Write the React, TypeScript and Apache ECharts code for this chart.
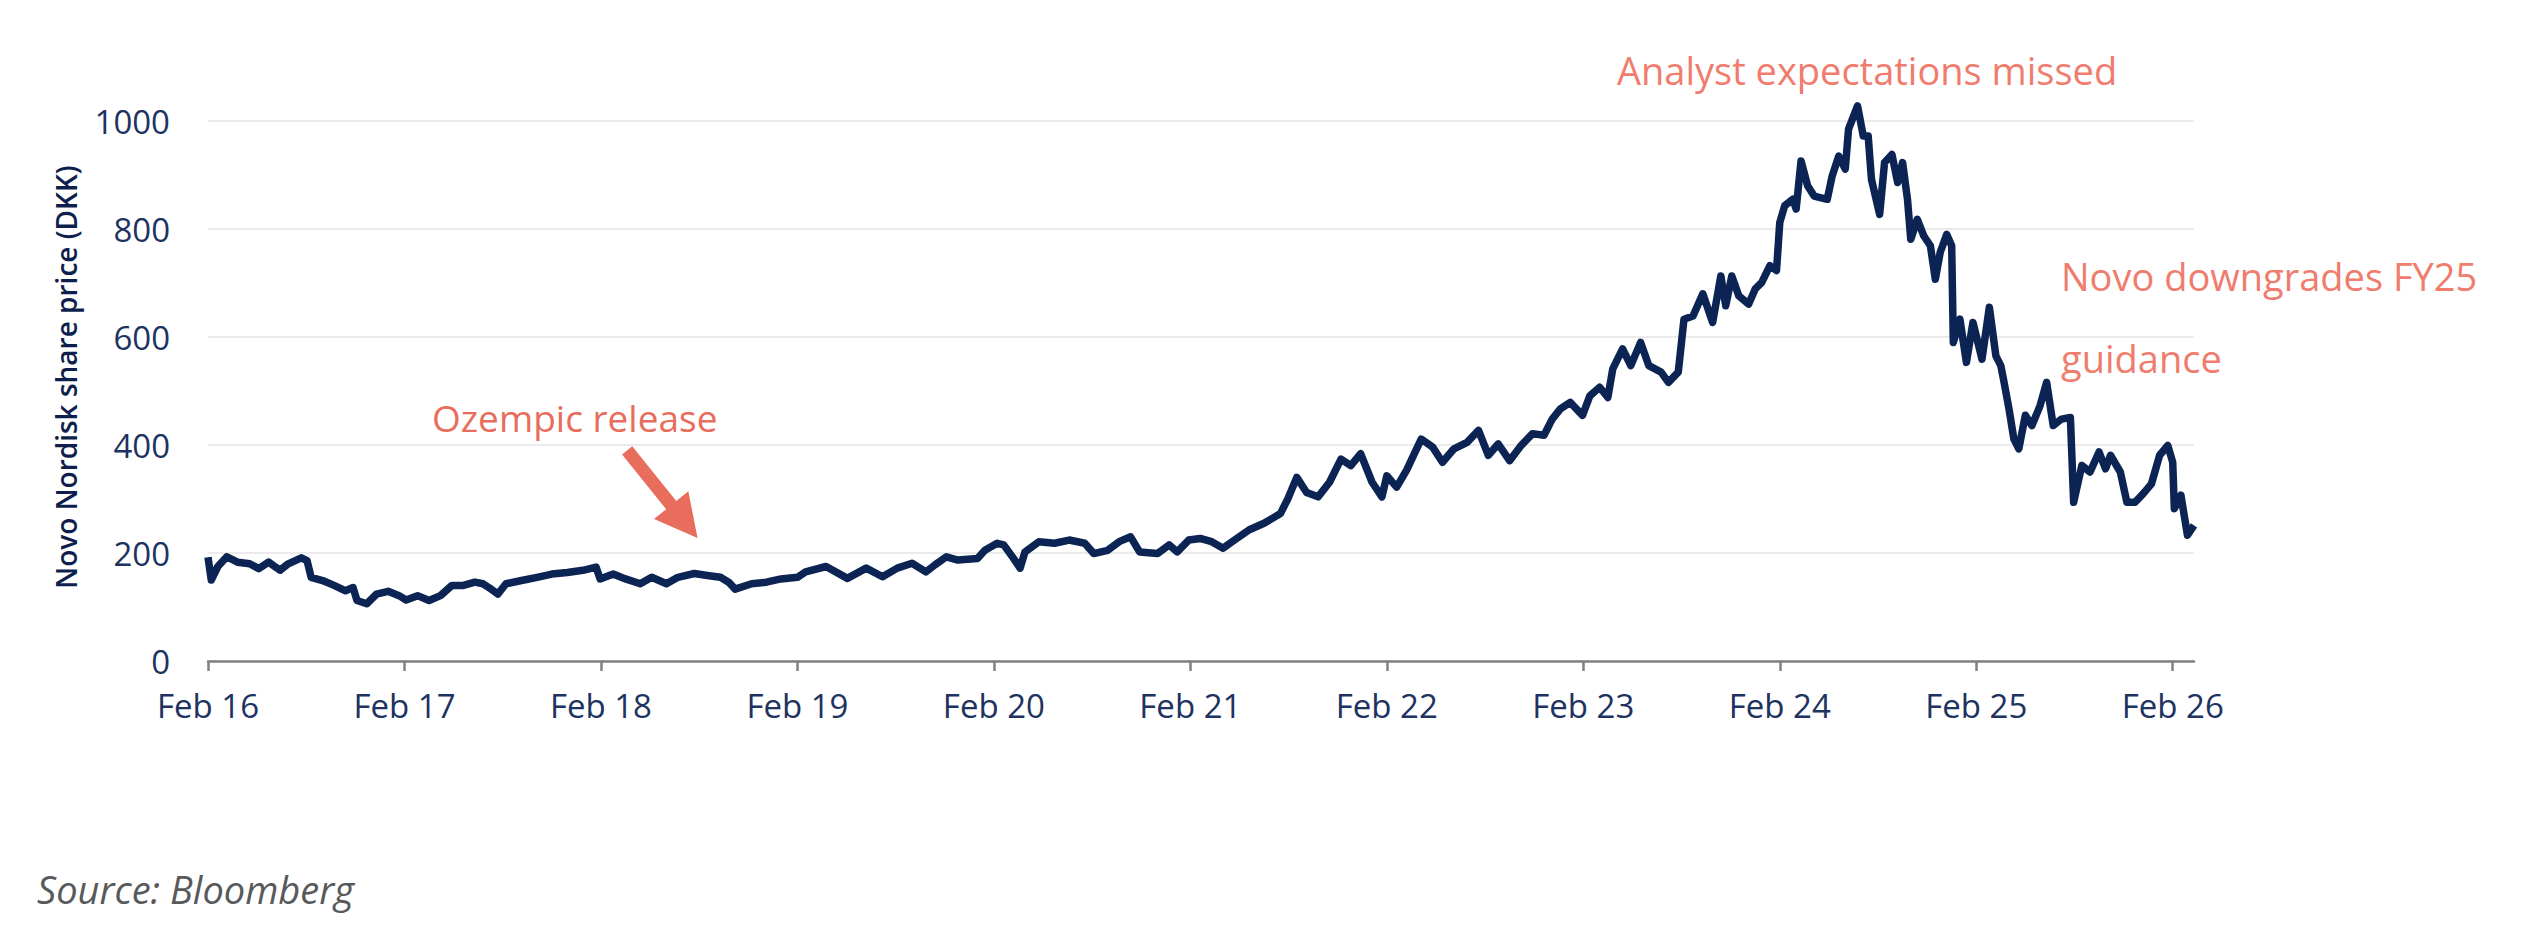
import { useEffect, useRef } from 'react';
import * as echarts from 'echarts';

// months since Feb 2016 and Novo Nordisk close (DKK)
const months = [
  0, 0.2, 0.6, 1.15, 1.8, 2.55, 3.1, 3.7, 4.4, 4.9, 5.7, 6.05, 6.3, 7.0, 7.7, 8.4, 8.86, 9.1, 9.7, 10.3,
  11.0, 11.67, 12.1, 12.8, 13.5, 14.2, 14.9, 15.6, 16.3, 16.8, 17.3, 17.7, 18.2, 19.15, 20.1, 21.0, 21.95, 22.9, 23.7, 23.95,
  24.75, 25.5, 26.4, 27.1, 28.0, 28.7, 29.7, 30.6, 31.3, 31.8, 32.2, 33.2, 34.1, 35.0, 36.0, 36.5, 37.75, 39.05, 40.2, 41.2,
  42.1, 43.0, 43.85, 44.4, 45.1, 45.8, 47.0, 47.45, 48.2, 48.6, 49.2, 49.6, 49.9, 50.75, 51.7, 52.6, 53.55, 54.1, 54.95, 55.65,
  56.35, 56.9, 58.0, 58.7, 59.2, 59.9, 60.6, 61.3, 62.0, 62.7, 63.6, 64.5, 65.5, 65.95, 66.5, 67.1, 67.8, 68.5, 69.2, 69.8,
  70.4, 71.1, 71.7, 72.0, 72.6, 73.2, 74.1, 74.8, 75.4, 76.1, 76.9, 77.6, 78.2, 78.8, 79.5, 80.2, 80.9, 81.6, 82.1, 82.6,
  83.2, 83.95, 84.4, 85.0, 85.5, 85.8, 86.4, 86.9, 87.5, 88.0, 88.75, 89.2, 89.8, 90.15, 90.7, 91.3, 91.9, 92.4, 92.7, 93.07,
  93.5, 94.1, 94.5, 94.9, 95.4, 95.8, 96.0, 96.3, 96.8, 97.0, 97.3, 97.7, 98.1, 98.9, 99.2, 99.6, 100.0, 100.2, 100.75, 101.1,
  101.4, 101.6, 102.1, 102.4, 102.85, 103.2, 103.5, 103.8, 104.0, 104.4, 104.8, 105.2, 105.5, 105.8, 106.2, 106.5, 106.6, 107.0, 107.4, 107.8,
  108.35, 108.8, 109.2, 109.5, 109.7, 110.0, 110.3, 110.6, 111.0, 111.4, 111.9, 112.3, 112.7, 113.2, 113.75, 113.95, 114.45, 114.95, 115.5, 115.9,
  116.2, 116.8, 117.2, 117.7, 118.2, 118.7, 119.2, 119.7, 120.0, 120.1, 120.5, 120.9, 121.3,
];

const prices = [
  192, 150, 175, 193, 183, 180, 171, 183, 168, 180, 191, 186, 155, 149, 140, 130, 136, 112, 106, 124,
  129, 121, 113, 121, 112, 121, 140, 140, 146, 143, 133, 124, 143, 149, 155, 161, 164, 168, 174, 152,
  161, 152, 143, 155, 143, 155, 162, 158, 155, 146, 133, 143, 146, 152, 155, 165, 175, 153, 172, 156,
  172, 181, 165, 178, 193, 187, 190, 205, 218, 215, 190, 172, 202, 221, 218, 224, 218, 199, 205, 221,
  230, 202, 199, 215, 202, 224, 227, 221, 209, 224, 243, 255, 273, 300, 340, 312, 304, 331, 374, 362,
  384, 331, 304, 343, 322, 353, 411, 396, 368, 393, 405, 427, 381, 402, 371, 399, 421, 418, 448, 467,
  479, 455, 491, 507, 488, 541, 578, 547, 590, 547, 535, 516, 535, 633, 639, 680, 627, 713, 658, 713,
  676, 661, 689, 701, 732, 723, 812, 843, 855, 837, 926, 880, 861, 855, 898, 935, 911, 985, 1028, 972,
  972, 892, 827, 923, 938, 886, 923, 855, 781, 818, 787, 769, 707, 757, 790, 769, 590, 633, 553, 627,
  559, 655, 565, 547, 516, 467, 411, 393, 455, 436, 473, 516, 436, 448, 451, 294, 362, 350, 387, 356,
  381, 350, 294, 294, 310, 328, 381, 399, 368, 282, 307, 233, 251,
];

const yearTicks = [0, 12, 24, 36, 48, 60, 72, 84, 96, 108, 120];
const yearLabels = ['Feb 16', 'Feb 17', 'Feb 18', 'Feb 19', 'Feb 20', 'Feb 21', 'Feb 22', 'Feb 23', 'Feb 24', 'Feb 25', 'Feb 26'];

// arrow for the Ozempic note, in data coordinates [month, price]
const arrowFrom = [25.6, 390];
const arrowTo = [29.9, 228];

const NAVY = '#0c2454';
const LABEL = '#203260';
const SALMON = '#e96d5c';
const SALMON_LIGHT = '#f07c6e';

export default function App() {
  const chartRef = useRef<HTMLDivElement>(null);

  useEffect(() => {
    if (!chartRef.current) return;
    const chart = echarts.init(chartRef.current, undefined, { renderer: 'svg' });

    const option = {
      animation: false,
      backgroundColor: '#ffffff',
      grid: { left: 208, right: 330, top: 121, bottom: 265 },
      xAxis: {
        type: 'value',
        min: 0,
        max: 121.3,
        splitLine: { show: false },
        axisLine: { lineStyle: { color: '#808080', width: 2.5 } },
        axisTick: { customValues: yearTicks, length: 10, lineStyle: { color: '#808080', width: 2.5 } },
        axisLabel: {
          customValues: yearTicks,
          formatter: (v: number) => yearLabels[Math.round(v / 12)] ?? '',
          color: LABEL,
          fontSize: 33,
          fontFamily: 'Open Sans',
          margin: 28,
        },
      },
      yAxis: {
        type: 'value',
        min: 0,
        max: 1000,
        interval: 200,
        axisLine: { show: false },
        axisTick: { show: false },
        splitLine: { lineStyle: { color: '#ebebeb', width: 2 } },
        axisLabel: {
          color: LABEL,
          fontSize: 33,
          fontFamily: 'Open Sans',
          margin: 38,
          formatter: (v: number) => String(v),
        },
      },
      series: [
        {
          type: 'line',
          data: months.map((m, i) => [m, prices[i]]),
          showSymbol: false,
          symbol: 'none',
          clip: false,
          lineStyle: { color: NAVY, width: 7.5, join: 'round' },
        },
      ],
    };
    chart.setOption(option);

    // arrow polygon built from data coordinates
    const tail = chart.convertToPixel({ gridIndex: 0 }, arrowFrom) as number[];
    const tip = chart.convertToPixel({ gridIndex: 0 }, arrowTo) as number[];
    const dx = tip[0] - tail[0];
    const dy = tip[1] - tail[1];
    const len = Math.sqrt(dx * dx + dy * dy);
    const ux = dx / len;
    const uy = dy / len;
    const nx = -uy;
    const ny = ux;
    const headLen = 42;
    const headW = 22;
    const shaftW = 6.5;
    const bx = tip[0] - ux * headLen;
    const by = tip[1] - uy * headLen;
    const arrowPts = [
      [tail[0] + nx * shaftW, tail[1] + ny * shaftW],
      [bx + nx * shaftW, by + ny * shaftW],
      [bx + nx * headW, by + ny * headW],
      [tip[0], tip[1]],
      [bx - nx * headW, by - ny * headW],
      [bx - nx * shaftW, by - ny * shaftW],
      [tail[0] - nx * shaftW, tail[1] - ny * shaftW],
    ];

    const note = (text: string, x: number, y: number, fill: string, size = 38) => ({
      type: 'text',
      x,
      y,
      style: { text, fill, fontSize: size, fontFamily: 'Open Sans', verticalAlign: 'middle' },
    });

    chart.setOption({
      graphic: [
        {
          type: 'text',
          x: 66,
          y: 377,
          rotation: Math.PI / 2,
          style: {
            text: 'Novo Nordisk share price (DKK)',
            fill: '#0f1f4d',
            fontSize: 28,
            fontWeight: 600,
            fontFamily: 'Open Sans',
            align: 'center',
            verticalAlign: 'middle',
          },
        },
        note('Ozempic release', 432, 417, SALMON, 37),
        note('Analyst expectations missed', 1617, 70, SALMON_LIGHT),
        note('Novo downgrades FY25', 2061, 276, SALMON_LIGHT),
        note('guidance', 2061, 358, SALMON_LIGHT),
        { type: 'polygon', shape: { points: arrowPts }, style: { fill: SALMON } },
        {
          type: 'text',
          x: 37,
          y: 889,
          style: {
            text: 'Source: Bloomberg',
            fill: '#58595b',
            fontSize: 38,
            fontStyle: 'italic',
            fontFamily: 'Open Sans',
            verticalAlign: 'middle',
          },
        },
      ],
    });

    return () => {
      chart.dispose();
    };
  }, []);

  return (
    <div
      ref={chartRef}
      style={{ position: 'fixed', left: 0, top: 0, width: '2524px', height: '926px', background: '#fff' }}
    ></div>
  );
}
